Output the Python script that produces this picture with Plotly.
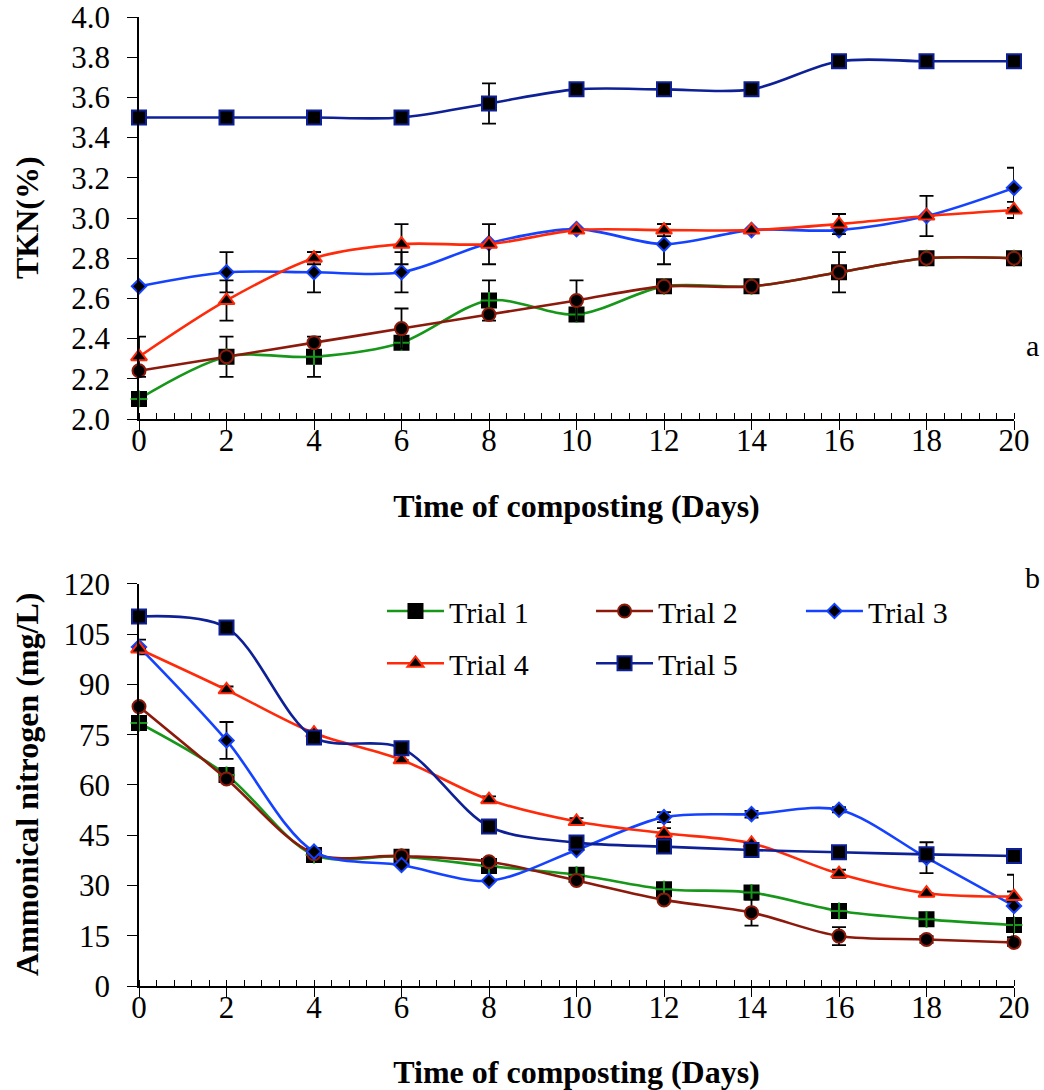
import plotly.graph_objects as go

# Sampling days
days = [0, 2, 4, 6, 8, 10, 12, 14, 16, 18, 20]

# Total Kjeldahl nitrogen (%)
tkn_t1 = [2.10, 2.31, 2.31, 2.38, 2.59, 2.52, 2.66, 2.66, 2.73, 2.80, 2.80]
tkn_t2 = [2.24, 2.31, 2.38, 2.45, 2.52, 2.59, 2.66, 2.66, 2.73, 2.80, 2.80]
tkn_t3 = [2.66, 2.73, 2.73, 2.73, 2.875, 2.945, 2.87, 2.94, 2.94, 3.01, 3.15]
tkn_t4 = [2.31, 2.59, 2.80, 2.87, 2.87, 2.94, 2.94, 2.94, 2.97, 3.01, 3.04]
tkn_t5 = [3.50, 3.50, 3.50, 3.50, 3.57, 3.64, 3.64, 3.64, 3.78, 3.78, 3.78]

tkn_e1 = [0, 0.1, 0.1, 0, 0.1, 0, 0, 0, 0, 0, 0]
tkn_e2 = [0, 0, 0, 0.1, 0, 0.1, 0, 0, 0.1, 0, 0]
tkn_e3 = [0, 0.1, 0.1, 0.1, 0, 0, 0.1, 0, 0, 0.1, 0.1]
tkn_e4 = [0.1, 0.1, 0.03, 0.1, 0.1, 0, 0.03, 0, 0.05, 0, 0.04]
tkn_e5 = [0, 0, 0, 0, 0.1, 0, 0, 0, 0, 0, 0]

# Ammonical nitrogen (mg/L)
amm_t1 = [78.5, 63.0, 39.1, 38.6, 35.8, 33.2, 28.9, 27.9, 22.4, 19.9, 18.2]
amm_t2 = [83.4, 61.8, 39.5, 38.8, 37.1, 31.5, 25.7, 21.9, 14.9, 13.9, 13.0]
amm_t3 = [101.2, 73.3, 40.1, 36.1, 31.4, 40.6, 50.4, 51.3, 52.6, 38.3, 23.9]
amm_t4 = [100.6, 88.4, 75.5, 67.5, 55.6, 49.1, 45.6, 42.6, 33.5, 27.7, 26.7]
amm_t5 = [110.3, 107.0, 74.2, 71.0, 47.6, 42.8, 41.6, 40.6, 39.9, 39.3, 38.8]

amm_e1 = [0, 0, 0, 1.5, 0, 0, 1.0, 1.0, 1.0, 0, 1.0]
amm_e2 = [0, 0, 0, 0, 0, 0, 0, 3.9, 2.7, 1.0, 1.0]
amm_e3 = [2.2, 5.5, 0, 0, 0, 0, 1.5, 1.0, 0.8, 4.6, 9.3]
amm_e4 = [0, 1.0, 0, 0, 1.0, 1.0, 1.5, 0, 1.2, 0, 1.5]
amm_e5 = [0, 0, 0, 1.0, 0, 0, 0, 0, 0, 0, 0]

names = ["Trial 1", "Trial 2", "Trial 3", "Trial 4", "Trial 5"]
line_colors = ["#16971A", "#8C1A0C", "#1442FF", "#FF2A0A", "#0E2096"]
symbols = ["square", "circle", "diamond", "triangle-up", "square"]
sizes = [14, 13, 11, 14, 14]

# one legend box per entry: three on the first row, two on the second
legend_ids = ["legend", "legend2", "legend3", "legend4", "legend5"]
legend_x = [0.2777, 0.5166, 0.7565, 0.2777, 0.5166]
legend_y = [0.387, 0.387, 0.387, 0.333, 0.333]

FONT = "Liberation Serif, Times New Roman, serif"

fig = go.Figure()


def add_series(x, ys, errs, xa, ya, show_legend):
    for i, (y, e) in enumerate(zip(ys, errs)):
        fig.add_trace(go.Scatter(
            x=x, y=y, name=names[i], mode="lines+markers",
            xaxis=xa, yaxis=ya, legend=legend_ids[i],
            showlegend=show_legend, legendgroup=names[i],
            cliponaxis=False,
            line=dict(color=line_colors[i], width=2.6, shape="spline", smoothing=0.9),
            marker=dict(symbol=symbols[i], size=sizes[i], color="black",
                        line=dict(color="black" if i == 0 else line_colors[i], width=2)),
            error_y=dict(type="data", array=e, visible=True, color="black",
                         thickness=1.8, width=7),
        ))
        if i == 0:
            # green cross drawn inside the black square of Trial 1
            fig.add_trace(go.Scatter(
                x=x, y=y, mode="markers", xaxis=xa, yaxis=ya,
                showlegend=False, legendgroup=names[i], hoverinfo="skip",
                cliponaxis=False,
                marker=dict(symbol="cross-thin", size=12, color=line_colors[0],
                            line=dict(color=line_colors[0], width=2)),
            ))


add_series(days, [tkn_t1, tkn_t2, tkn_t3, tkn_t4, tkn_t5],
           [tkn_e1, tkn_e2, tkn_e3, tkn_e4, tkn_e5], "x", "y", False)
add_series(days, [amm_t1, amm_t2, amm_t3, amm_t4, amm_t5],
           [amm_e1, amm_e2, amm_e3, amm_e4, amm_e5], "x2", "y2", True)

tick_font = dict(family=FONT, size=31, color="black")
title_font = dict(family=FONT, size=32, color="black")

xcommon = dict(
    range=[0, 20], dtick=2, tick0=0, showgrid=False, zeroline=False,
    showline=True, linecolor="black", linewidth=1.5, automargin=False,
    ticks="outside", ticklen=9, tickwidth=1.3, tickcolor="black",
    ticklabelstandoff=-16, ticklabeloverflow="allow",
    minor=dict(ticks="inside", dtick=0.4, ticklen=6, tickwidth=1.1, tickcolor="black"),
    tickfont=tick_font,
    title=dict(text="<b>Time of composting (Days)</b>", font=title_font, standoff=38),
)
ycommon = dict(
    showgrid=False, zeroline=False, showline=True, linecolor="black", linewidth=1.5,
    automargin=False, ticklabelstandoff=11, ticklabeloverflow="allow",
    ticks="outside", ticklen=10, tickwidth=1.3, tickcolor="black", tickfont=tick_font,
)

legends = {}
for lid, lx, ly in zip(legend_ids, legend_x, legend_y):
    legends[lid] = dict(orientation="h", x=lx, y=ly, xanchor="left", yanchor="middle",
                        font=dict(family=FONT, size=30, color="black"),
                        bgcolor="rgba(0,0,0,0)", itemwidth=57)

annot_font = dict(family=FONT, size=30, color="black")

fig.update_layout(
    width=1044, height=1090,
    margin=dict(l=139, r=30, t=17, b=104, autoexpand=False),
    paper_bgcolor="white", plot_bgcolor="white",
    font=dict(family=FONT, color="black"),
    xaxis=dict(domain=[0, 1], anchor="y", **xcommon),
    yaxis=dict(domain=[0.5851, 1], anchor="x", range=[2.0, 4.0], dtick=0.2,
               tickformat=".1f", **ycommon),
    xaxis2=dict(domain=[0, 1], anchor="y2", **xcommon),
    yaxis2=dict(domain=[0, 0.4149], anchor="x2", range=[0, 120], dtick=15,
                **ycommon),
    annotations=[
        # y-axis titles, both centred on the same vertical line
        dict(text="<b>TKN(%)</b>", textangle=-90, xref="paper", yref="y domain",
             x=0, y=0.5, xanchor="center", yanchor="middle", xshift=-112,
             showarrow=False, font=title_font),
        dict(text="<b>Ammonical nitrogen (mg/L)</b>", textangle=-90, xref="paper",
             yref="y2 domain", x=0, y=0.5, xanchor="center", yanchor="middle",
             xshift=-112, showarrow=False, font=title_font),
        # panel letters
        dict(text="a", x=20, y=2.365, xref="x", yref="y", xanchor="center",
             yanchor="middle", xshift=18, showarrow=False, font=annot_font),
        dict(text="b", x=1, y=1.017, xref="x2 domain", yref="y2 domain",
             xanchor="center", yanchor="middle", xshift=18, showarrow=False,
             font=annot_font),
    ],
    **legends,
)

fig.write_html("out.html")
